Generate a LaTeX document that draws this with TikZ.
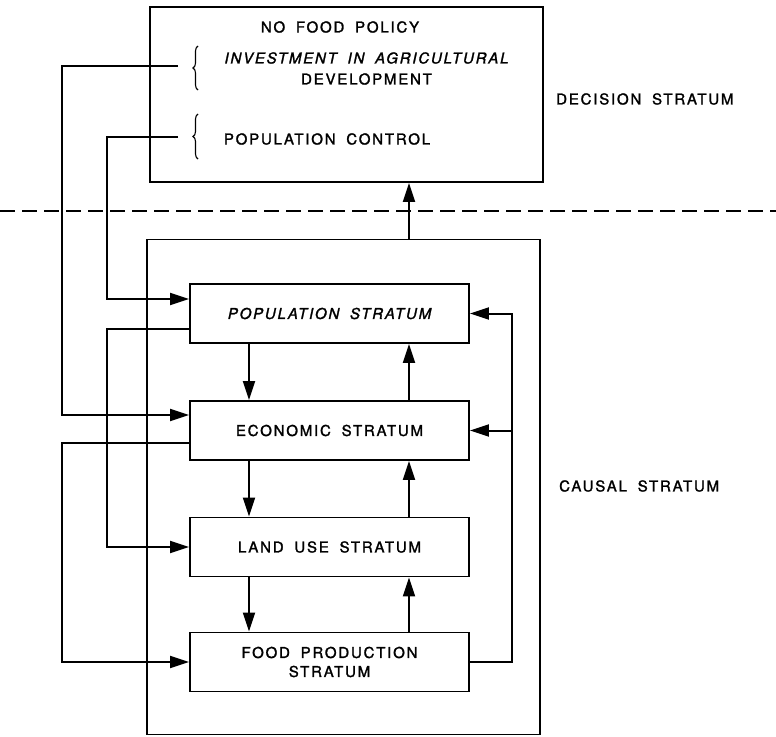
\documentclass[tikz,border=0pt]{standalone}
\usepackage{fontspec}
\setmainfont{TeX Gyre Heros}[LetterSpace=12,WordSpace=1.8,FakeBold=1.6]
\usetikzlibrary{positioning, shapes, arrows.meta}
\usetikzlibrary{decorations.pathreplacing}

\tikzset{
  stratum/.style={draw, line width=1.8pt, minimum width=279pt, minimum height=59pt, align=center, inner sep=0pt},
  txt/.style={inner sep=0pt},
  flow/.style={line width=2pt, -{Triangle[length=19pt,width=12pt]}},
  curly/.style={line width=1.1pt, decorate, decoration={brace, amplitude=5pt}}
}

\begin{document}
\begin{tikzpicture}[x=1pt, y=-1pt, font=\fontsize{15}{19}\selectfont]

\useasboundingbox (0,0) rectangle (776,736);

\node (decision) at (346.5,94.5) [draw, line width=1.8pt, minimum width=393pt, minimum height=175pt] {};
\node (causal) at (343.5,487) [draw, line width=1.8pt, minimum width=393pt, minimum height=495pt] {};

\node (nofood) at (340,27) [txt] {NO FOOD POLICY};
\node (invest) at (366.5,58) [txt] {\itshape INVESTMENT IN AGRICULTURAL};
\node (devel) at (366.5,79) [txt] {DEVELOPMENT};
\node (popctrl) at (327,139) [txt] {POPULATION CONTROL};

\draw [curly] (198,90) -- (198,46);
\draw [curly] (198,159) -- (198,114);

\coordinate (invtip) at (178,66);
\coordinate (ctrltip) at (178,137);

\draw [line width=1.8pt, dash pattern=on 15pt off 7pt] (0,211) -- (776,211);

\node (decisionlbl) at (556,99) [txt, anchor=west] {DECISION STRATUM};
\node (causallbl) at (559,486) [txt, anchor=west] {CAUSAL STRATUM};

\node (pop) at (329.5,313.5) [stratum] {\itshape POPULATION STRATUM};
\node (econ) at (329.5,430.5) [stratum] {ECONOMIC STRATUM};
\node (land) at (329.5,547) [stratum] {LAND USE STRATUM};
\node (food) at (329.5,662) [stratum] {FOOD PRODUCTION\\STRATUM};

\coordinate (ax) at (62,0);
\coordinate (bx) at (107,0);
\coordinate (rx) at (512,0);
\coordinate (upx) at (409,0);
\coordinate (downx) at (249,0);

\coordinate (popin) at ([yshift=14.5pt]pop.west);
\coordinate (popout) at ([yshift=-15.5pt]pop.west);
\coordinate (econin) at ([yshift=15.5pt]econ.west);
\coordinate (econout) at ([yshift=-12.5pt]econ.west);

\draw [flow] (invtip) -- (invtip -| ax) |- (econin);
\draw [flow] (ctrltip) -- (ctrltip -| bx) |- (popin);
\draw [flow] (popout) -- (popout -| bx) |- (land.west);
\draw [flow] (econout) -- (econout -| ax) |- (food.west);
\draw [flow] (food.east) -- (food.east -| rx) |- (pop.east);
\draw [flow] (econ.east -| rx) -- (econ.east);

\draw [flow] (pop.south -| downx) -- (econ.north -| downx);
\draw [flow] (econ.south -| downx) -- (land.north -| downx);
\draw [flow] (land.south -| downx) -- (food.north -| downx);

\draw [flow] (food.north -| upx) -- (land.south -| upx);
\draw [flow] (land.north -| upx) -- (econ.south -| upx);
\draw [flow] (econ.north -| upx) -- (pop.south -| upx);
\draw [flow] (causal.north -| upx) -- (decision.south -| upx);

\end{tikzpicture}
\end{document}
